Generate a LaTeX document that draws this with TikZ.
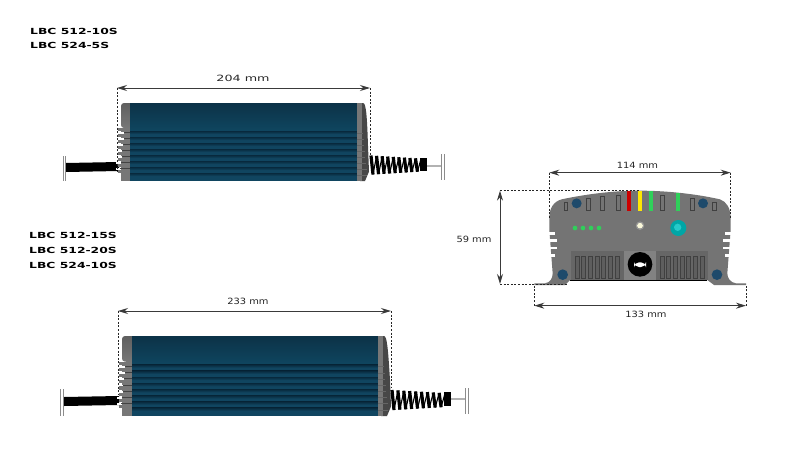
\documentclass[tikz,border=0pt]{standalone}
\usepackage{fontspec}
\setmainfont{DejaVu Sans}
\newfontfamily\lblfont[FakeStretch=1.47]{DejaVu Sans Bold}
\newfontfamily\dimfont[FakeStretch=1.15]{DejaVu Sans}
\newfontfamily\dimwidefont[FakeStretch=1.48]{DejaVu Sans}
\usetikzlibrary{arrows.meta}
\definecolor{bluedark}{HTML}{0C3247}
\definecolor{bluemid}{HTML}{0F4660}
\definecolor{bluerib}{HTML}{104560}
\definecolor{ribdark}{HTML}{082A3E}
\definecolor{capgray}{HTML}{777777}
\definecolor{capdark}{HTML}{474747}
\definecolor{frontgray}{HTML}{747474}
\definecolor{grille}{HTML}{666666}
\definecolor{screwblue}{HTML}{1E4A6B}
\definecolor{ledgreen}{HTML}{2FD05A}
\definecolor{dimline}{HTML}{3A3A3A}
\tikzset{
  dimarrow/.style={draw=dimline,line width=1pt,{Stealth[length=10pt,width=6pt]}-{Stealth[length=10pt,width=6pt]}},
  dashline/.style={draw=black!85,line width=0.7pt,dash pattern=on 2pt off 1.6pt},
  lbl/.style={anchor=west,inner sep=0pt,font=\fontsize{8.4}{10}\lblfont},
  dimlbl/.style={inner sep=0pt,text=black!85,font=\fontsize{8.6}{10}\dimfont},
  dimwide/.style={inner sep=0pt,text=black!85,font=\fontsize{8.6}{10}\dimwidefont},
  endbar/.style={draw=black!45,line width=0.9pt},
  slot/.style={draw=black!75,line width=0.7pt},
}
\newcommand\chargerbody[6]{%
  \pgfmathsetmacro\hgt{#6-#5}
  \fill[capgray] ({#1+4},{#5+.3*\hgt}) rectangle ({#2+3},#6);
  \foreach \i in {0,...,7}{
    \pgfmathsetmacro\ny{#5+(.30+\i*.077)*\hgt}
    \pgfmathsetmacro\nw{8-\i*.7}
    \fill[capgray] ({#1+1},{\ny+1.7}) rectangle ({#2},{\ny+5});
    \fill[white] ({#1-1},\ny) rectangle ({#1+\nw},{\ny+1.7});
    \fill[capgray!55!black] ({#1+\nw},\ny) rectangle ({#2},{\ny+1});
  }
  \shade[top color=capgray!80!black,bottom color=capgray,rounded corners=3pt]
    ({#1+4},#5) rectangle ({#2+3},{#5+.32*\hgt});
  % blue shell
  \shade[top color=bluedark,bottom color=bluemid] (#2,#5) rectangle (#3,{#5+.36*\hgt});
  \fill[bluerib] (#2,{#5+.36*\hgt}) rectangle (#3,#6);
  \foreach \i in {0,...,7}{
    \pgfmathsetmacro\ny{#5+(.36+\i*.077)*\hgt}
    \shade[top color=ribdark,bottom color=bluerib] (#2,\ny) rectangle (#3,{\ny+3});
  }
  % right cap
  \fill[capdark] ({#3+3},#5) -- ({#3+6},#5) .. controls ({#3+9},#5) and ({#3+10},{#5+.15*\hgt}) .. ({#4-1},{#5+.55*\hgt})
     -- (#4,{#6-.12*\hgt}) -- ({#4-4},#6) -- ({#3+3},#6) -- cycle;
  \fill[capgray] (#3,#5) rectangle ({#3+5},#6);
  \foreach \i in {0,...,7}{
    \pgfmathsetmacro\ny{#5+(.38+\i*.077)*\hgt}
    \fill[black!60] (#3,\ny) rectangle ({#3+6+\i*.6},{\ny+1});
  }
}
\newcommand\coilspring[4]{%
  \foreach \i in {0,...,8}{
    \pgfmathsetmacro\sx{#1+\i*(#2-#1)/9}
    \pgfmathsetmacro\sn{(#2-#1)/9}
    \pgfmathsetmacro\sh{(#4-\i*.7)/2}
    \draw[black,line width=3.2pt] (\sx,{#3-\sh}) -- ({\sx+2},{#3+\sh});
    \draw[black,line width=1.1pt] ({\sx+2},{#3+\sh}) -- ({\sx+\sn},{#3-\sh+.7});
  }
}
\begin{document}
\begin{tikzpicture}[x=1pt,y=-1pt]
\useasboundingbox (0,0) rectangle (785,458);
\fill[white] (0,0) rectangle (785,458);

% titles
\node[lbl] (t1) at (30,31) {LBC 512-10S};
\node[lbl] (t2) at (30,45) {LBC 524-5S};
\node[lbl] (t3) at (29,235) {LBC 512-15S};
\node[lbl] (t4) at (29,250) {LBC 512-20S};
\node[lbl] (t5) at (29,265) {LBC 524-10S};

% upper charger
\fill[black] (66,163) -- (119,162) -- (119,171) -- (66,172) -- cycle;
\chargerbody{117}{130}{357}{369}{103}{181}
\draw[black!30,line width=2pt] (425,166) -- (441,166);
\coilspring{371}{421}{165}{19}
\fill[black] (420,158) rectangle (427,171);
\draw[endbar] (63,156) -- (63,181);
\draw[endbar] (65.5,156) -- (65.5,181);
\draw[endbar] (441,154) -- (441,180);
\draw[endbar] (444,154) -- (444,180);
\coordinate (aL) at (117,88);
\coordinate (aR) at (370,88);
\coordinate (aLb) at (117,172);
\coordinate (aRb) at (370,155);
\draw[dashline] (aL) -- (aLb);
\draw[dashline] (aR) -- (aRb);
\draw[dimarrow] (aL) -- (aR);
\node[dimwide] (d204) at (243,78) {204 mm};

% lower charger
\fill[black] (64,397) -- (119,396) -- (119,405) -- (64,406) -- cycle;
\chargerbody{118}{132}{378}{391}{336}{416}
\draw[black!30,line width=2pt] (448,399) -- (466,399);
\coilspring{392}{445}{400}{20}
\fill[black] (444,392) rectangle (451,406);
\draw[endbar] (60.5,389) -- (60.5,416);
\draw[endbar] (63,389) -- (63,416);
\draw[endbar] (465,388) -- (465,414);
\draw[endbar] (468,388) -- (468,414);
\coordinate (bL) at (118,311);
\coordinate (bR) at (391,311);
\coordinate (bLb) at (118,395);
\coordinate (bRb) at (391,388);
\draw[dashline] (bL) -- (bLb);
\draw[dashline] (bR) -- (bRb);
\draw[dimarrow] (bL) -- (bR);
\node[dimlbl] (d233) at (248,301) {233 mm};

% front view (coordinates: 3x crop from 490,150)
\begin{scope}[shift={(490,150)},x=0.33333pt,y=-0.33333pt]
  \fill[frontgray] (133,400) -- (165,400) .. controls (180,398) and (188,385) .. (188,370)
    -- (178,240) -- (178,205) .. controls (178,175) and (190,155) .. (215,148)
    .. controls (300,130) and (380,122) .. (450,122)
    .. controls (520,122) and (610,130) .. (690,148)
    .. controls (710,155) and (722,175) .. (722,205) -- (722,240)
    -- (712,370) .. controls (712,385) and (722,398) .. (738,400) -- (768,400) -- (768,405)
    -- (672,405) -- (652,390) -- (240,390) -- (225,405) -- (133,405) -- cycle;
  % side fins
  \foreach \fy/\fw in {246/20,268/24,290/24,312/20}{
    \fill[white] (176,\fy) rectangle ({176+\fw},{\fy+8});
    \fill[white] ({724-\fw},\fy) rectangle (724,{\fy+8});
  }
  % grilles
  \fill[grille] (243,303) rectangle (403,390);
  \fill[grille] (498,303) rectangle (655,390);
  \fill[frontgray!90!white] (403,303) rectangle (498,390);
  \foreach \sx in {255,275,295,315,335,355,375}{
    \draw[black!75,line width=.6pt,fill=grille!92!black] (\sx,320) rectangle ({\sx+12},386);
  }
  \foreach \sx in {510,530,550,570,590,610,630}{
    \draw[black!75,line width=.6pt,fill=grille!92!black] (\sx,320) rectangle ({\sx+12},386);
  }
  \draw[black,line width=1pt] (240,390) -- (652,390);
  % top slots
  \foreach \sx/\sy/\sw/\sh in {222/158/10/24,290/146/12/36,330/140/12/42,378/136/12/46,510/136/12/46,600/146/12/36,668/158/10/24}{
    \draw[slot] (\sx,\sy) rectangle ({\sx+\sw},{\sy+\sh});
  }
  % coloured bars
  \fill[red!80!black] (411,123) rectangle (423,182);
  \fill[yellow!90!orange] (444,123) rectangle (456,182);
  \fill[ledgreen] (478,123) rectangle (489,182);
  \fill[ledgreen] (559,130) rectangle (570,182);
  % screws
  \foreach \sx/\sy/\sr in {260/160/15,639/160/15,218/374/16,681/374/16}{
    \fill[screwblue] (\sx,\sy) circle[radius=\sr];
  }
  % leds
  \foreach \sx in {255,279,303,327}{
    \fill[ledgreen] (\sx,234) circle[radius=7];
  }
  \fill[black!15!yellow!15!white] (450,227) circle[radius=9];
  \draw[black!40,line width=1pt] (450,227) circle[radius=11];
  \fill[teal!70!cyan] (565,234) circle[radius=24];
  \fill[teal!50!cyan!85!white] (563,232) circle[radius=11];
  % knob
  \fill[black] (450,343) circle[radius=37];
  \fill[white,rounded corners=5pt] (432,337) rectangle (468,351);
  % dimensions
  \coordinate (cL) at (178,68);
  \coordinate (cR) at (722,68);
  \coordinate (cLb) at (178,205);
  \coordinate (cRb) at (722,205);
  \coordinate (hT) at (30,122);
  \coordinate (hB) at (30,402);
  \coordinate (hTe) at (450,122);
  \coordinate (hBe) at (230,402);
  \coordinate (wL) at (133,467);
  \coordinate (wR) at (768,467);
  \coordinate (wLt) at (133,405);
  \coordinate (wRt) at (768,405);
  \draw[dashline] (cL) -- (cLb);
  \draw[dashline] (cR) -- (cRb);
  \draw[dashline] (hT) -- (hTe);
  \draw[dashline] (hB) -- (hBe);
  \draw[dashline] (wL) -- (wLt);
  \draw[dashline] (wR) -- (wRt);
  \draw[dimarrow] (cL) -- (cR);
  \draw[dimarrow] (hT) -- (hB);
  \draw[dimarrow] (wL) -- (wR);
\end{scope}
\node[dimlbl] (d114) at (637.5,165) {114 mm};
\node[dimlbl] (d59) at (474,239) {59 mm};
\node[dimlbl] (d133) at (646,314) {133 mm};
\end{tikzpicture}
\end{document}
